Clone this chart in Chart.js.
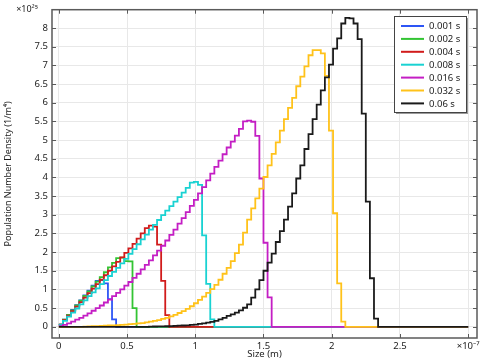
<!DOCTYPE html>
<html lang="en">
<head>
<meta charset="utf-8" />
<title>Population Number Density</title>
<script src="https://cdn.jsdelivr.net/npm/chart.js"></script>
<style>
  html, body { margin: 0; padding: 0; background: #fff; }
</style>
</head>
<body>
<canvas id="psdChart" width="485" height="363"></canvas>
<script>
// size bins: 100 bins over 0..3e-7 m, x in units of 1e-7 m
const binWidth = 0.03;
const xTicks = [0, 0.5, 1, 1.5, 2, 2.5];
const yTickStep = 0.5;

const seriesLabels = ['0.001 s', '0.002 s', '0.004 s', '0.008 s', '0.016 s', '0.032 s', '0.06 s'];
const seriesColors = ['#2d55f5', '#33c433', '#d11b1b', '#19d2d2', '#c41ec4', '#ffc21a', '#1a1a1a'];

// population number density per bin, units of 1e25 1/m^4
const t001 = [
  0.06, 0.19, 0.32, 0.45, 0.58, 0.71, 0.84, 0.97, 1.10, 1.23,
  1.25, 1.16, 0.74, 0.20, 0, 0, 0, 0, 0, 0,
  0, 0, 0, 0, 0, 0, 0, 0, 0, 0,
  0, 0, 0, 0, 0, 0, 0, 0, 0, 0,
  0, 0, 0, 0, 0, 0, 0, 0, 0, 0,
  0, 0, 0, 0, 0, 0, 0, 0, 0, 0,
  0, 0, 0, 0, 0, 0, 0, 0, 0, 0,
  0, 0, 0, 0, 0, 0, 0, 0, 0, 0,
  0, 0, 0, 0, 0, 0, 0, 0, 0, 0,
  0, 0, 0, 0, 0, 0, 0, 0, 0, 0
];
const t002 = [
  0.06, 0.19, 0.32, 0.44, 0.57, 0.70, 0.83, 0.95, 1.08, 1.21,
  1.33, 1.46, 1.59, 1.71, 1.84, 1.85, 1.76, 1.75, 0.50, 0,
  0, 0, 0, 0, 0, 0, 0, 0, 0, 0,
  0, 0, 0, 0, 0, 0, 0, 0, 0, 0,
  0, 0, 0, 0, 0, 0, 0, 0, 0, 0,
  0, 0, 0, 0, 0, 0, 0, 0, 0, 0,
  0, 0, 0, 0, 0, 0, 0, 0, 0, 0,
  0, 0, 0, 0, 0, 0, 0, 0, 0, 0,
  0, 0, 0, 0, 0, 0, 0, 0, 0, 0,
  0, 0, 0, 0, 0, 0, 0, 0, 0, 0
];
const t004 = [
  0.06, 0.18, 0.30, 0.42, 0.54, 0.66, 0.78, 0.90, 1.02, 1.14,
  1.26, 1.38, 1.50, 1.62, 1.74, 1.86, 1.98, 2.10, 2.22, 2.36,
  2.50, 2.64, 2.71, 2.68, 2.20, 1.23, 0.31, 0, 0, 0,
  0, 0, 0, 0, 0, 0, 0, 0, 0, 0,
  0, 0, 0, 0, 0, 0, 0, 0, 0, 0,
  0, 0, 0, 0, 0, 0, 0, 0, 0, 0,
  0, 0, 0, 0, 0, 0, 0, 0, 0, 0,
  0, 0, 0, 0, 0, 0, 0, 0, 0, 0,
  0, 0, 0, 0, 0, 0, 0, 0, 0, 0,
  0, 0, 0, 0, 0, 0, 0, 0, 0, 0
];
const t008 = [
  0.05, 0.16, 0.27, 0.38, 0.49, 0.60, 0.71, 0.82, 0.92, 1.03,
  1.14, 1.25, 1.36, 1.47, 1.58, 1.70, 1.82, 1.95, 2.08, 2.21,
  2.34, 2.47, 2.60, 2.73, 2.86, 2.99, 3.11, 3.23, 3.35, 3.47,
  3.59, 3.72, 3.86, 3.88, 3.80, 2.45, 1.15, 0.20, 0, 0,
  0, 0, 0, 0, 0, 0, 0, 0, 0, 0,
  0, 0, 0, 0, 0, 0, 0, 0, 0, 0,
  0, 0, 0, 0, 0, 0, 0, 0, 0, 0,
  0, 0, 0, 0, 0, 0, 0, 0, 0, 0,
  0, 0, 0, 0, 0, 0, 0, 0, 0, 0,
  0, 0, 0, 0, 0, 0, 0, 0, 0, 0
];
const t016 = [
  0.02, 0.05, 0.09, 0.14, 0.19, 0.24, 0.30, 0.36, 0.43, 0.50,
  0.57, 0.65, 0.73, 0.82, 0.91, 1.00, 1.10, 1.20, 1.31, 1.42,
  1.54, 1.66, 1.78, 1.91, 2.04, 2.17, 2.31, 2.46, 2.60, 2.76,
  2.91, 3.07, 3.24, 3.40, 3.57, 3.74, 3.92, 4.10, 4.28, 4.45,
  4.62, 4.80, 4.96, 5.12, 5.30, 5.50, 5.52, 5.49, 5.11, 3.97,
  2.25, 0.79, 0, 0, 0, 0, 0, 0, 0, 0,
  0, 0, 0, 0, 0, 0, 0, 0, 0, 0,
  0, 0, 0, 0, 0, 0, 0, 0, 0, 0,
  0, 0, 0, 0, 0, 0, 0, 0, 0, 0,
  0, 0, 0, 0, 0, 0, 0, 0, 0, 0
];
const t032 = [
  0, 0, 0, 0, 0, 0, 0.005, 0.01, 0.015, 0.02,
  0.025, 0.03, 0.035, 0.04, 0.045, 0.05, 0.06, 0.07, 0.08, 0.09,
  0.10, 0.12, 0.14, 0.16, 0.18, 0.21, 0.24, 0.28, 0.32, 0.37,
  0.42, 0.48, 0.55, 0.63, 0.72, 0.81, 0.91, 1.01, 1.12, 1.26,
  1.42, 1.58, 1.76, 1.97, 2.20, 2.52, 2.87, 3.17, 3.44, 3.70,
  4.01, 4.32, 4.63, 4.94, 5.25, 5.56, 5.86, 6.13, 6.44, 6.70,
  6.97, 7.27, 7.41, 7.41, 7.32, 6.72, 5.25, 3.04, 1.16, 0.14,
  0, 0, 0, 0, 0, 0, 0, 0, 0, 0,
  0, 0, 0, 0, 0, 0, 0, 0, 0, 0,
  0, 0, 0, 0, 0, 0, 0, 0, 0, 0
];
const t060 = [
  0, 0, 0, 0, 0, 0, 0, 0, 0, 0,
  0, 0, 0, 0, 0, 0, 0, 0, 0, 0,
  0, 0, 0.005, 0.008, 0.01, 0.012, 0.015, 0.02, 0.025, 0.03,
  0.035, 0.04, 0.05, 0.06, 0.08, 0.09, 0.11, 0.13, 0.16, 0.20,
  0.24, 0.29, 0.33, 0.38, 0.44, 0.51, 0.60, 0.78, 1.00, 1.25,
  1.50, 1.72, 1.96, 2.27, 2.56, 2.87, 3.22, 3.57, 3.97, 4.32,
  4.76, 5.16, 5.56, 5.95, 6.33, 6.68, 7.02, 7.45, 7.72, 8.12,
  8.27, 8.26, 8.12, 7.70, 5.71, 3.35, 1.30, 0.22, 0, 0,
  0, 0, 0, 0, 0, 0, 0, 0, 0, 0,
  0, 0, 0, 0, 0, 0, 0, 0, 0, 0
];
const seriesValues = [t001, t002, t004, t008, t016, t032, t060];

const textColor = '#1c1c1c';
const fontFamily = '"Noto Sans", "DejaVu Sans", sans-serif';

// step outline: a point at every bin's left edge, plus the last right edge
function toSteps(values) {
  const pts = values.map((v, k) => ({ x: k * binWidth, y: v }));
  pts.push({ x: values.length * binWidth, y: values[values.length - 1] });
  return pts;
}

function fmt(v) {
  return String(Math.round(v * 100) / 100);
}

// frame with inward ticks, exponent label and the boxed legend
const framePlugin = {
  id: 'frame',
  afterDraw(chart) {
    const { ctx, chartArea: a } = chart;
    const xs = chart.scales.x, ys = chart.scales.y;
    ctx.save();
    ctx.strokeStyle = '#5a5a5a';
    ctx.lineWidth = 1;
    ctx.beginPath();
    xs.ticks.forEach(t => {
      const px = Math.round(xs.getPixelForValue(t.value)) + 0.5;
      ctx.moveTo(px, a.bottom); ctx.lineTo(px, a.bottom - 4);
      ctx.moveTo(px, a.top); ctx.lineTo(px, a.top + 4);
    });
    ys.ticks.forEach(t => {
      const py = Math.round(ys.getPixelForValue(t.value)) + 0.5;
      ctx.moveTo(a.left, py); ctx.lineTo(a.left + 4, py);
      ctx.moveTo(a.right, py); ctx.lineTo(a.right - 4, py);
    });
    ctx.stroke();
    ctx.lineWidth = 1.5;
    ctx.strokeRect(a.left, a.top, a.right - a.left, a.bottom - a.top);

    ctx.fillStyle = textColor;
    ctx.font = '9px ' + fontFamily;
    ctx.textAlign = 'center';
    ctx.textBaseline = 'middle';
    ctx.fillText('×10²⁵', 27, 9);

    // legend box
    const bx = 394, by = 16, bw = 72, bh = 96, rowH = 12.9;
    ctx.fillStyle = '#9a9a9a';
    ctx.fillRect(bx + 2, by + 2, bw, bh);
    ctx.fillStyle = '#fff';
    ctx.fillRect(bx, by, bw, bh);
    ctx.strokeStyle = '#444';
    ctx.lineWidth = 1;
    ctx.strokeRect(bx + 0.5, by + 0.5, bw, bh);
    ctx.font = '9.5px ' + fontFamily;
    ctx.textAlign = 'left';
    seriesLabels.forEach((lab, i) => {
      const ry = by + 10 + i * rowH;
      ctx.strokeStyle = seriesColors[i];
      ctx.lineWidth = 2;
      ctx.beginPath();
      ctx.moveTo(bx + 7, ry); ctx.lineTo(bx + 30, ry);
      ctx.stroke();
      ctx.fillStyle = textColor;
      ctx.fillText(lab, bx + 35, ry + 0.5);
    });
    ctx.restore();
  }
};

const datasets = seriesValues.map((vals, i) => ({
  label: seriesLabels[i],
  data: toSteps(vals),
  borderColor: seriesColors[i],
  backgroundColor: seriesColors[i],
  borderWidth: 1.8,
  pointRadius: 0,
  stepped: true,
  fill: false,
  order: seriesValues.length - 1 - i   // later times drawn on top
}));

new Chart(document.getElementById('psdChart').getContext('2d'), {
  type: 'line',
  data: { datasets },
  plugins: [framePlugin],
  options: {
    responsive: false,
    animation: false,
    layout: { padding: { left: 0, right: 8, top: 5, bottom: 0 } },
    plugins: {
      legend: { display: false },
      tooltip: { enabled: false }
    },
    scales: {
      x: {
        type: 'linear',
        min: -0.05,
        max: 3.065,
        border: { display: false },
        grid: { color: '#e8e8e8', drawTicks: false },
        ticks: {
          stepSize: 0.5,
          includeBounds: false,
          maxRotation: 0,
          padding: 3,
          color: textColor,
          font: { family: fontFamily, size: 9.5 },
          callback: v => (Math.abs(v - 3) < 1e-9 ? '×10⁻⁷' : (xTicks.some(t => Math.abs(t - v) < 1e-9) ? fmt(v) : ''))
        },
        title: {
          display: true,
          text: 'Size (m)',
          color: textColor,
          font: { family: fontFamily, size: 9.5 },
          padding: { top: 0, bottom: 3 }
        },
        afterFit: s => { s.height = 25; }
      },
      y: {
        type: 'linear',
        min: -0.3,
        max: 8.49,
        border: { display: false },
        grid: { color: '#e8e8e8', drawTicks: false },
        ticks: {
          stepSize: yTickStep,
          includeBounds: false,
          padding: 4,
          color: textColor,
          font: { family: fontFamily, size: 9.5 },
          callback: v => fmt(v)
        },
        title: {
          display: true,
          text: 'Population Number Density (1/m⁴)',
          color: textColor,
          font: { family: fontFamily, size: 9 },
          padding: { top: 3, bottom: 0 }
        },
        afterFit: s => { s.width = 52; }
      }
    }
  }
});
</script>
</body>
</html>
